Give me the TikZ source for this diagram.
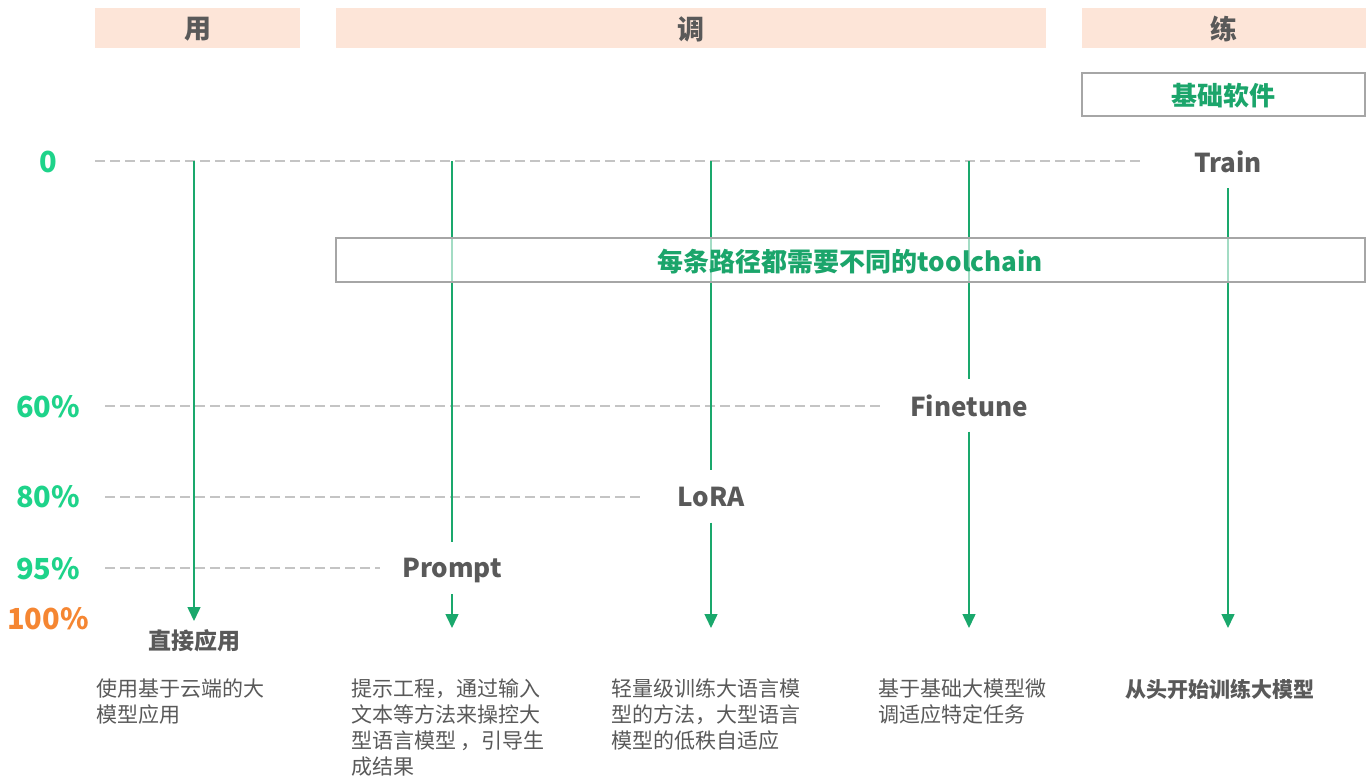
\documentclass[tikz,border=0pt]{standalone}
\usepackage{fontspec}
\setmainfont{Noto Sans CJK SC}
\usetikzlibrary{arrows.meta}
\definecolor{hdrfill}{HTML}{FDE5D8}
\definecolor{dgray}{HTML}{595959}
\definecolor{bgray}{HTML}{A6A6A6}
\definecolor{lgray}{HTML}{C4C4C4}
\definecolor{tgreen}{HTML}{1BA56B}
\definecolor{agreen}{HTML}{1AA86C}
\definecolor{pgreen}{HTML}{1ED38A}
\definecolor{porange}{HTML}{F58632}
\tikzset{
  hdr/.style={fill=hdrfill, minimum height=40pt, inner sep=0pt, text depth=0pt, font=\fontsize{27}{30}\selectfont\bfseries, text=dgray},
  framebox/.style={draw=bgray, line width=2.5pt, minimum height=43pt, inner sep=0pt, text depth=0pt, font=\fontsize{26}{30}\selectfont\bfseries, text=tgreen},
  pct/.style={font=\fontsize{29}{32}\selectfont\bfseries, text=pgreen, inner sep=0pt},
  lbl/.style={font=\fontsize{26}{30}\selectfont\bfseries, text=dgray, minimum height=52pt, inner sep=0pt, text depth=0pt},
  link/.style={draw=agreen, line width=1.5pt},
  flow/.style={link, -{Triangle[width=13pt,length=14pt]}},
  guide/.style={draw=lgray, line width=1.2pt, dash pattern=on 10pt off 5pt},
  desc/.style={font=\fontsize{21}{26}\selectfont, text=dgray, align=left, anchor=north west, inner sep=0pt}
}
\begin{document}
\begin{tikzpicture}[x=1pt,y=-1pt]
\path[use as bounding box] (0,0) rectangle (1371,777);
% headers
\node[hdr, minimum width=205pt] (hyong) at (197.5,28) {用};
\node[hdr, minimum width=710pt] (htiao) at (691,28) {调};
\node[hdr, minimum width=284pt] (hlian) at (1224,28) {练};
\node[framebox, minimum width=283pt] (base) at (1223.5,94.5) {基础软件};
% percent labels
\node[pct] (p0) at (48,162) {0};
\node[pct] (p60) at (48,407) {60\%};
\node[pct] (p80) at (48,497) {80\%};
\node[pct] (p95) at (48,569) {95\%};
\node[pct, text=porange] (p100) at (48,619) {100\%};
% guide coordinates
\coordinate (g0a) at (95,161);  \coordinate (g0b) at (1142,161);
\coordinate (g60a) at (105,406); \coordinate (g60b) at (882,406);
\coordinate (g80a) at (105,497); \coordinate (g80b) at (640,497);
\coordinate (g95a) at (105,568); \coordinate (g95b) at (380,568);
\draw[guide] (g0a) -- (g0b);
\draw[guide] (g60a) -- (g60b);
\draw[guide] (g80a) -- (g80b);
\draw[guide] (g95a) -- (g95b);
% method labels
\node[lbl] (train) at (1228,162) {Train};
\node[lbl] (finetune) at (969,405.5) {Finetune};
\node[lbl] (lora) at (711,496.5) {LoRA};
\node[lbl] (prompt) at (452,568) {Prompt};
% vertical flows
\coordinate (v1) at (194,161); \coordinate (v2) at (452,161);
\coordinate (v3) at (711,161); \coordinate (v4) at (969,161);
\coordinate (e1) at (194,621); \coordinate (e2) at (452,628);
\coordinate (e3) at (711,628); \coordinate (e4) at (969,628);
\coordinate (e5) at (1228,628);
\draw[flow] (v1) -- (e1);
\draw[link] (v2) -- (v2 |- prompt.north);
\draw[flow] (prompt.south) -- (e2);
\draw[link] (v3) -- (v3 |- lora.north);
\draw[flow] (lora.south) -- (e3);
\draw[link] (v4) -- (v4 |- finetune.north);
\draw[flow] (finetune.south) -- (e4);
\draw[flow] (train.south) -- (e5);
% toolchain box
\node[framebox, minimum width=1029pt, minimum height=44pt, fill=white, fill opacity=0.6, text opacity=1] (tool) at (850.5,260) {每条路径都需要不同的toolchain};
% results
\node[font=\fontsize{23}{28}\selectfont\bfseries, text=dgray, inner sep=0pt] (direct) at (194,641) {直接应用};
\node[desc] (d1) at (96,679) {使用基于云端的大\\模型应用};
\node[desc] (d2) at (351,679) {提示工程，通过输入\\文本等方法来操控大\\型语言模型 ，引导生\\成结果};
\node[desc] (d3) at (611,679) {轻量级训练大语言模\\型的方法，大型语言\\模型的低秩自适应};
\node[desc] (d4) at (878,679) {基于基础大模型微\\调适应特定任务};
\node[desc, font=\fontsize{21}{26}\selectfont\bfseries] (d5) at (1125,679) {从头开始训练大模型};
\end{tikzpicture}
\end{document}
